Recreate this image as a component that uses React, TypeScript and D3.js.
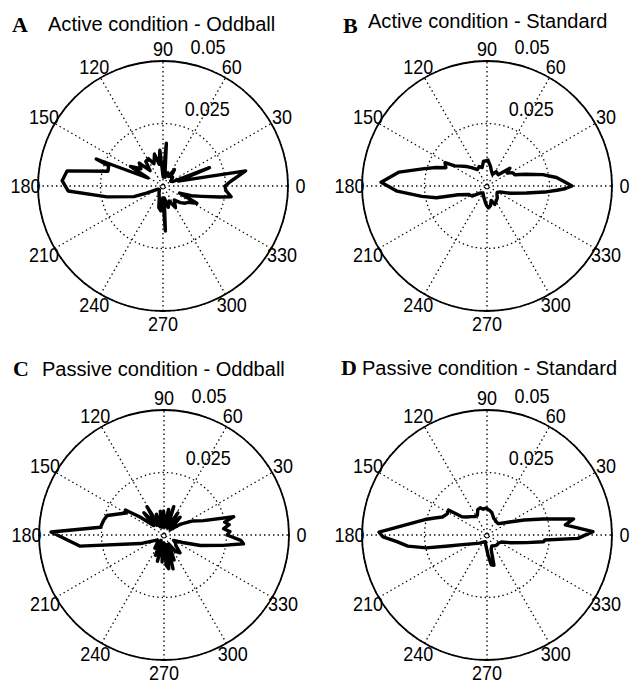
import React from 'react';
import * as d3 from 'd3';

// Polar axis settings
const RADIUS_MAX = 0.05;
const RING_VALUES = [0.025, 0.05];
const RING_LABELS = ['0.025', '0.05'];
const SPOKE_DEGREES = [0, 30, 60, 90, 120, 150];
const ANGLE_LABEL_DEGREES = [0, 30, 60, 90, 120, 150, 180, 210, 240, 270, 300, 330];

// Panel A: Active condition - Oddball (angle in degrees, radius)
const anglesA = [0, 4, 10.4, 18, 21.5, 24, 32, 42, 50, 55, 60, 70, 78, 85.5, 89, 95, 100, 105, 112, 118, 125, 130, 136, 142, 149, 152, 158, 159.5, 165, 171, 177, 183, 191, 200, 203, 212, 225, 240, 252, 259, 265, 269, 273, 276, 284, 292, 300, 309, 316, 322, 327, 333, 337, 341, 345, 349, 351, 356];
const radiiA = [0.0248, 0.0272, 0.0336, 0.0064, 0.0200, 0.0044, 0.0036, 0.0052, 0.0048, 0.0080,
  0.0044, 0.0056, 0.0036, 0.0172, 0.0036, 0.0144, 0.0088, 0.0132, 0.0096, 0.0124,
  0.0120, 0.0080, 0.0132, 0.0112, 0.0152, 0.0068, 0.0288, 0.0232, 0.0228, 0.0388,
  0.0404, 0.0380, 0.0228, 0.0124, 0.0072, 0.0024, 0.0020, 0.0032, 0.0048, 0.0088,
  0.0100, 0.0048, 0.0180, 0.0048, 0.0088, 0.0064, 0.0100, 0.0072, 0.0096, 0.0112,
  0.0120, 0.0152, 0.0072, 0.0120, 0.0160, 0.0232, 0.0276, 0.0252];

// Panel B: Active condition - Standard
const anglesB = [0, 3, 7, 11.5, 17, 22, 27, 33, 38, 45, 57, 65, 72, 80, 88, 93, 98, 105, 112, 120, 130, 136, 143, 148, 151, 156, 160, 164.5, 171, 178, 183.3, 189, 193, 197, 205, 214, 225, 240, 252, 262, 268, 274, 280, 286, 293, 300, 310, 320, 328, 335, 343, 350, 354, 356.5, 358];
const radiiB = [0.0340, 0.0312, 0.0280, 0.0228, 0.0160, 0.0120, 0.0116, 0.0096, 0.0116, 0.0064,
  0.0068, 0.0052, 0.0060, 0.0080, 0.0104, 0.0100, 0.0100, 0.0076, 0.0084, 0.0076,
  0.0096, 0.0112, 0.0132, 0.0152, 0.0192, 0.0180, 0.0216, 0.0260, 0.0356, 0.0424,
  0.0360, 0.0264, 0.0208, 0.0120, 0.0080, 0.0072, 0.0040, 0.0032, 0.0044, 0.0060,
  0.0076, 0.0088, 0.0080, 0.0060, 0.0080, 0.0072, 0.0064, 0.0052, 0.0048, 0.0056,
  0.0100, 0.0160, 0.0232, 0.0280, 0.0312];

// Panel C: Passive condition - Oddball
const anglesC = [0, 3, 6, 9, 12, 14.7, 20, 26, 33, 40, 48, 53, 58, 64, 71, 76, 80, 86, 91, 95, 99, 104, 110, 115, 121, 126, 132, 138, 143, 147, 150, 161, 166, 173, 178.5, 187.5, 200, 212, 225, 235, 241, 247, 252, 256, 260, 266, 270, 274, 278, 282, 285, 289, 292, 298, 305, 312, 318, 325, 331, 338, 344, 350, 353.7, 356];
const radiiC = [0.0252, 0.0264, 0.0240, 0.0264, 0.0248, 0.0288, 0.0168, 0.0128, 0.0080, 0.0032,
  0.0096, 0.0040, 0.0104, 0.0032, 0.0120, 0.0040, 0.0104, 0.0032, 0.0096, 0.0040,
  0.0096, 0.0032, 0.0088, 0.0036, 0.0132, 0.0048, 0.0120, 0.0056, 0.0120, 0.0184,
  0.0176, 0.0240, 0.0248, 0.0256, 0.0452, 0.0340, 0.0100, 0.0040, 0.0032, 0.0064,
  0.0024, 0.0088, 0.0032, 0.0108, 0.0032, 0.0108, 0.0032, 0.0120, 0.0136, 0.0040,
  0.0140, 0.0048, 0.0108, 0.0040, 0.0080, 0.0096, 0.0064, 0.0056, 0.0044, 0.0080,
  0.0152, 0.0240, 0.0320, 0.0308];

// Panel D: Passive condition - Standard
const anglesD = [1.8, 7.3, 10.5, 16, 22, 30, 37, 45, 54, 60, 68, 78, 85, 92, 98, 104, 110, 116, 123, 130, 138, 144, 147, 152, 158, 162, 166, 178.5, 181, 184, 188, 192, 196, 203, 215, 228, 242, 256, 266, 273, 278, 283, 286, 293, 303, 314, 325, 334, 342, 349, 353.2, 355, 357.9];
const radiiD = [0.0424, 0.0316, 0.0352, 0.0232, 0.0160, 0.0104, 0.0080, 0.0064, 0.0064, 0.0068,
  0.0072, 0.0092, 0.0100, 0.0108, 0.0104, 0.0112, 0.0108, 0.0088, 0.0088, 0.0096,
  0.0108, 0.0124, 0.0184, 0.0180, 0.0192, 0.0220, 0.0256, 0.0432, 0.0416, 0.0364,
  0.0320, 0.0248, 0.0160, 0.0096, 0.0060, 0.0044, 0.0032, 0.0028, 0.0048, 0.0080,
  0.0120, 0.0124, 0.0060, 0.0048, 0.0052, 0.0056, 0.0056, 0.0064, 0.0100, 0.0160,
  0.0228, 0.0232, 0.0364];

const panelLetters = ['A', 'B', 'C', 'D'];
const panelTitles = [
  'Active condition - Oddball',
  'Active condition - Standard',
  'Passive condition - Oddball',
  'Passive condition - Standard',
];
const panelAngles = [anglesA, anglesB, anglesC, anglesD];
const panelRadii = [radiiA, radiiB, radiiC, radiiD];

const WIDTH = 631;
const HEIGHT = 684;
const R = 125;

const layout = [
  { cx: 163, cy: 186, letterX: 12, letterY: 32, titleX: 48, titleY: 30.5 },
  { cx: 487, cy: 186, letterX: 343, letterY: 33, titleX: 368, titleY: 28 },
  { cx: 164, cy: 535, letterX: 13, letterY: 376, titleX: 42, titleY: 376 },
  { cx: 487, cy: 535, letterX: 341, letterY: 375, titleX: 362, titleY: 375 },
];

const SANS = '"Liberation Sans", Arial, Helvetica, sans-serif';
const SERIF = '"Liberation Serif", "Times New Roman", serif';
const DOT = '1.4 3.1';

const toRad = (deg: number) => (deg * Math.PI) / 180;

function PolarPanel({ index }: { index: number }) {
  const { cx, cy, letterX, letterY, titleX, titleY } = layout[index];
  const rScale = d3.scaleLinear().domain([0, RADIUS_MAX]).range([0, R]);
  const pts: [number, number][] = panelAngles[index].map((a, i) => [a, panelRadii[index][i]]);
  const line = d3
    .lineRadial<[number, number]>()
    .angle((d) => toRad(90 - d[0]))
    .radius((d) => rScale(d[1]))
    .curve(d3.curveLinearClosed);

  const labelR = rScale(RADIUS_MAX) * 1.1;

  return (
    <g>
      <text
        x={letterX}
        y={letterY}
        fontFamily={SERIF}
        fontWeight="bold"
        fontSize={22}
        fill="#000"
      >
        {panelLetters[index]}
      </text>
      <text
        transform={`translate(${titleX},${titleY}) scale(0.955,1)`}
        fontFamily={SANS}
        fontSize={21}
        fill="#000"
      >
        {panelTitles[index]}
      </text>

      <g transform={`translate(${cx},${cy})`}>
        <circle r={rScale(RADIUS_MAX)} fill="#fff" />
        {SPOKE_DEGREES.map((a) => {
          const x = rScale(RADIUS_MAX) * Math.cos(toRad(a));
          const y = -rScale(RADIUS_MAX) * Math.sin(toRad(a));
          return (
            <line
              key={`s${a}`}
              x1={-x}
              y1={-y}
              x2={x}
              y2={y}
              stroke="#000"
              strokeWidth={1.3}
              strokeDasharray={DOT}
            />
          );
        })}
        {RING_VALUES.map((v) => (
          <circle
            key={`r${v}`}
            r={rScale(v)}
            fill="none"
            stroke="#000"
            strokeWidth={1.3}
            strokeDasharray={DOT}
          />
        ))}
        <circle r={rScale(RADIUS_MAX)} fill="none" stroke="#000" strokeWidth={1.8} />

        <path
          d={line(pts) || ''}
          fill="none"
          stroke="#000"
          strokeWidth={3.4}
          strokeLinejoin="round"
        />

        {ANGLE_LABEL_DEGREES.map((a) => {
          const x = labelR * Math.cos(toRad(a));
          const y = -labelR * Math.sin(toRad(a));
          return (
            <text
              key={`a${a}`}
              transform={`translate(${x},${y}) scale(0.9,1)`}
              textAnchor="middle"
              dy="0.36em"
              fontFamily={SANS}
              fontSize={20}
              fill="#000"
            >
              {a}
            </text>
          );
        })}
        {RING_VALUES.map((v, i) => {
          const rr = rScale(v);
          const x = rr * Math.cos(toRad(82)) + (i === 0 ? 13 : 10);
          const y = -rr * Math.sin(toRad(82)) - 8;
          return (
            <text
              key={`l${v}`}
              transform={`translate(${x},${y}) scale(0.9,1)`}
              fontFamily={SANS}
              fontSize={20}
              fill="#000"
            >
              {RING_LABELS[i]}
            </text>
          );
        })}
      </g>
    </g>
  );
}

export default function App() {
  return (
    <svg
      width={WIDTH}
      height={HEIGHT}
      viewBox={`0 0 ${WIDTH} ${HEIGHT}`}
      style={{ position: 'absolute', left: 0, top: 0, background: '#fff' }}
    >
      <rect width={WIDTH} height={HEIGHT} fill="#fff" />
      {panelLetters.map((_, i) => (
        <PolarPanel key={i} index={i} />
      ))}
    </svg>
  );
}
